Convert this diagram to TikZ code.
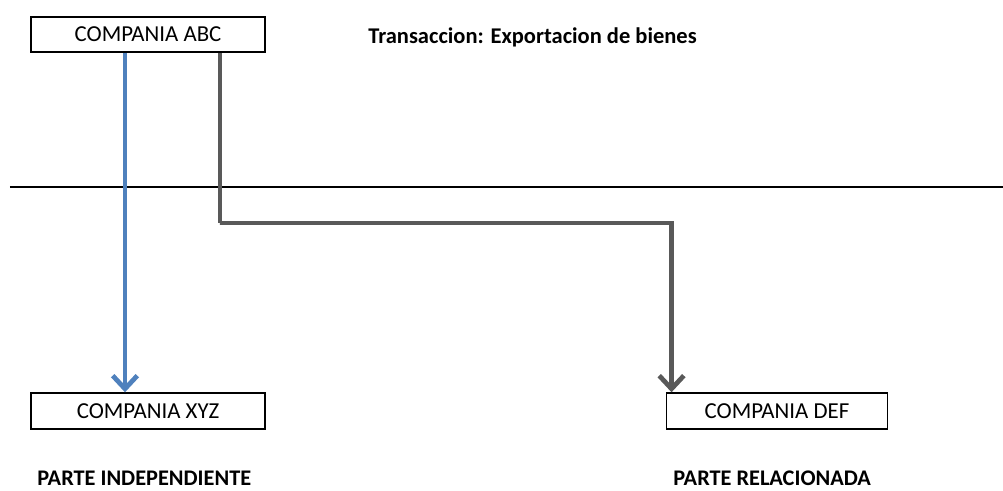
\documentclass[tikz,border=0pt]{standalone}
\usepackage{fontspec}
\setmainfont{Carlito}
\usepackage{tikz}
\usetikzlibrary{arrows.meta}

\definecolor{flowblue}{HTML}{4F81BD}
\definecolor{flowgray}{HTML}{595959}

\begin{document}
\begin{tikzpicture}[
    company/.style={draw, line width=1.1pt, minimum height=0.71cm, inner sep=0pt, font=\fontsize{13}{15}\selectfont},
    tag/.style={anchor=west, inner sep=0pt, font=\bfseries\fontsize{12.8}{15}\selectfont},
    flow/.style={line width=2.7pt, -{Straight Barb[length=7.5pt, width=14pt, line width=2.7pt]}}
  ]
    \useasboundingbox (0,0) rectangle (20.06,9.8);

    % Companies
    \node[company, minimum width=4.68cm] (abc) at (2.96,9.11) {COMPANIA ABC};
    \node[company, minimum width=4.68cm] (xyz) at (2.96,1.58) {COMPANIA XYZ};
    \node[company, minimum width=4.42cm] (def) at (15.54,1.58) {COMPANIA DEF};

    % Titles
    \node[tag] (title) at (7.36,9.06) {Transaccion: Exportacion de bienes};
    \node[tag, font=\bfseries\fontsize{12.7}{15}\selectfont] (indep) at (0.74,0.24) {PARTE INDEPENDIENTE};
    \node[tag, font=\bfseries\fontsize{12.7}{15}\selectfont] (relac) at (13.46,0.24) {PARTE RELACIONADA};

    % Border line
    \coordinate (borderL) at (0.2,6.06);
    \coordinate (borderR) at (20.06,6.06);
    \draw[line width=1pt] (borderL) -- (borderR);

    % Flows
    \draw[flow, flowblue] ([xshift=-0.46cm]abc.south) -- ([xshift=-0.46cm]xyz.north); % independent
    \coordinate (bend) at (4.4,5.34);
    \draw[flow, flowgray] ([xshift=1.44cm]abc.south) |- (bend) -| ([xshift=0.12cm]def.north west); % related
\end{tikzpicture}
\end{document}
